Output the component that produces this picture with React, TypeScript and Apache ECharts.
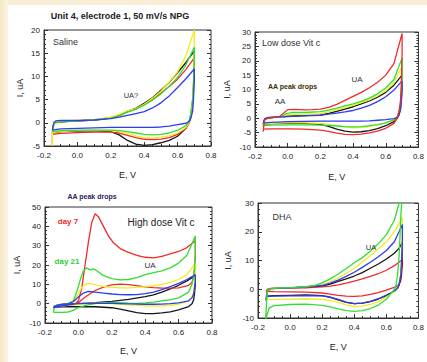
import React, { useEffect, useRef } from "react";
import * as echarts from "echarts";

type P = [number, number][];

// ---------- Panel 1: Saline ----------
const salineBlack: P = [[-0.15,-2.2],[-0.145,-0.8],[-0.14,-0.2],[-0.13,0.1],[-0.1,0.2],[0.0,0.4],[0.1,0.6],[0.2,1.1],[0.25,1.6],[0.3,2.4],[0.35,3.1],[0.4,4.2],[0.45,5.4],[0.5,7.0],[0.55,8.7],[0.6,10.8],[0.65,13.0],[0.7,15.5],[0.7,13],[0.695,8],[0.69,5],[0.68,2],[0.67,0.3],[0.65,-1.2],[0.6,-2.9],[0.55,-3.8],[0.5,-4.3],[0.45,-4.7],[0.4,-4.85],[0.35,-4.6],[0.3,-3.8],[0.25,-2.6],[0.2,-1.9],[0.1,-1.7],[0.0,-1.8],[-0.1,-1.9],[-0.15,-2.2]];
const salineRed: P = [[-0.15,-2.5],[-0.145,-1],[-0.14,-0.2],[-0.13,0],[-0.1,0.2],[0,0.4],[0.1,0.6],[0.2,1.0],[0.25,1.6],[0.3,2.5],[0.35,3.1],[0.4,4.0],[0.45,5.0],[0.5,6.4],[0.55,7.8],[0.6,9.4],[0.65,11.5],[0.7,14],[0.7,12],[0.695,7],[0.69,4],[0.68,1.5],[0.67,0],[0.65,-1.2],[0.6,-2.5],[0.55,-3.2],[0.5,-3.5],[0.45,-3.6],[0.4,-3.55],[0.35,-3.2],[0.3,-2.7],[0.25,-2.2],[0.2,-2.0],[0.1,-2.0],[0,-2.1],[-0.1,-2.3],[-0.15,-2.5],[-0.15,-5]];
const salineYellow: P = [[-0.15,-5],[-0.148,-2],[-0.14,-0.3],[-0.13,0.1],[-0.1,0.3],[0,0.5],[0.1,0.7],[0.2,1.2],[0.25,1.8],[0.3,2.6],[0.35,3.0],[0.4,4.0],[0.45,5.3],[0.5,6.8],[0.55,8.8],[0.6,11.0],[0.65,14.5],[0.7,20],[0.7,16],[0.695,9],[0.69,5],[0.68,2],[0.67,0.2],[0.65,-1.0],[0.6,-2.2],[0.55,-2.8],[0.5,-3.1],[0.45,-3.3],[0.4,-3.2],[0.35,-2.8],[0.3,-2.3],[0.25,-1.9],[0.2,-1.7],[0.1,-1.6],[0,-1.7],[-0.1,-1.9],[-0.15,-2.1]];
const salineGreen: P = [[-0.15,-1.9],[-0.145,-0.7],[-0.14,-0.1],[-0.13,0.1],[-0.1,0.2],[0,0.4],[0.1,0.6],[0.2,1.0],[0.25,1.5],[0.3,2.3],[0.35,2.9],[0.4,3.8],[0.45,4.9],[0.5,6.2],[0.55,7.9],[0.6,9.8],[0.65,12.5],[0.7,16.3],[0.7,14],[0.695,8],[0.69,4.5],[0.68,2],[0.67,0.5],[0.65,-0.6],[0.6,-1.6],[0.55,-2.2],[0.5,-2.5],[0.45,-2.6],[0.4,-2.5],[0.35,-2.2],[0.3,-1.9],[0.25,-1.7],[0.2,-1.6],[0.1,-1.6],[0,-1.6],[-0.1,-1.7],[-0.15,-1.9]];
const salineBlue: P = [[-0.15,-1.6],[-0.145,-0.6],[-0.14,0.1],[-0.13,0.4],[-0.1,0.5],[0,0.5],[0.1,0.6],[0.2,0.9],[0.25,1.2],[0.3,1.6],[0.35,2.0],[0.4,2.4],[0.45,3.2],[0.5,4.3],[0.55,5.8],[0.6,7.6],[0.65,9.5],[0.7,11.6],[0.7,9],[0.695,5],[0.69,2.5],[0.68,1],[0.67,0.3],[0.65,-0.1],[0.6,-0.4],[0.55,-0.7],[0.5,-0.9],[0.45,-1.0],[0.4,-1.0],[0.3,-1.0],[0.2,-1.0],[0.1,-1.1],[0,-1.2],[-0.1,-1.3],[-0.15,-1.6]];

// ---------- Panel 2: Low dose Vit c ----------
const lowRed: P = [[-0.15,-4.7],[-0.145,-2],[-0.14,-0.5],[-0.12,0],[-0.08,0.3],[-0.05,0.6],[-0.02,2.0],[0,3.0],[0.05,3.1],[0.1,2.9],[0.15,3.0],[0.2,3.2],[0.25,3.8],[0.3,4.8],[0.35,6.2],[0.4,7.6],[0.45,9.0],[0.5,10.6],[0.55,12.5],[0.6,15],[0.65,19],[0.7,29.5],[0.7,22],[0.695,12],[0.69,6],[0.68,2],[0.67,0],[0.65,-1.8],[0.6,-3.5],[0.55,-4.5],[0.5,-5.1],[0.45,-5.5],[0.4,-5.7],[0.35,-5.6],[0.3,-5.2],[0.25,-4.6],[0.2,-4.1],[0.1,-3.8],[0,-3.7],[-0.1,-3.7],[-0.15,-3.8]];
const lowGreen: P = [[-0.15,-3],[-0.145,-1.5],[-0.14,-0.5],[-0.12,0],[-0.08,0.3],[-0.04,0.6],[-0.01,1.5],[0.02,2.0],[0.1,2.0],[0.2,2.3],[0.25,2.8],[0.3,3.5],[0.35,4.3],[0.4,5.0],[0.45,5.9],[0.5,7.0],[0.55,8.5],[0.6,10.5],[0.65,13.5],[0.7,21],[0.7,15],[0.695,8],[0.69,4.5],[0.68,2],[0.67,0.5],[0.65,-0.6],[0.6,-1.6],[0.55,-2.2],[0.5,-2.6],[0.45,-2.9],[0.4,-3.0],[0.35,-2.9],[0.3,-2.7],[0.25,-2.5],[0.2,-2.4],[0.1,-2.3],[0,-2.3],[-0.1,-2.4],[-0.15,-2.6]];
const lowYellow: P = [[-0.15,-2.2],[-0.145,-1],[-0.14,-0.3],[-0.12,0.1],[-0.08,0.4],[-0.03,0.7],[0,1.3],[0.1,1.4],[0.2,1.6],[0.25,2.2],[0.3,3.0],[0.35,3.7],[0.4,4.5],[0.45,5.4],[0.5,6.5],[0.55,7.9],[0.6,9.5],[0.65,12.5],[0.7,18],[0.7,13],[0.695,7],[0.69,4],[0.68,1.8],[0.67,0.4],[0.65,-0.6],[0.6,-1.6],[0.55,-2.3],[0.5,-2.8],[0.45,-3.2],[0.4,-3.3],[0.35,-3.0],[0.3,-2.6],[0.25,-2.1],[0.2,-1.8],[0.1,-1.6],[0,-1.6],[-0.1,-1.8],[-0.15,-2.0]];
const lowBlack: P = [[-0.15,-2.2],[-0.145,-1],[-0.14,-0.3],[-0.12,0.1],[-0.08,0.3],[0,0.7],[0.1,0.9],[0.2,1.2],[0.25,1.7],[0.3,2.4],[0.35,3.2],[0.4,4.0],[0.45,5.0],[0.5,6.0],[0.55,7.3],[0.6,9.0],[0.65,11.5],[0.7,15],[0.7,11],[0.695,6],[0.69,3],[0.68,1],[0.67,0],[0.65,-1.2],[0.6,-2.6],[0.55,-3.6],[0.5,-4.3],[0.45,-4.7],[0.4,-4.8],[0.35,-4.5],[0.3,-3.8],[0.25,-2.8],[0.2,-2.1],[0.1,-1.8],[0,-1.8],[-0.1,-1.9],[-0.15,-2.1]];
const lowBlue: P = [[-0.15,-1.8],[-0.145,-0.8],[-0.14,-0.1],[-0.12,0.3],[-0.08,0.5],[0,0.6],[0.1,0.8],[0.2,1.0],[0.25,1.4],[0.3,1.8],[0.35,2.2],[0.4,2.7],[0.45,3.5],[0.5,4.5],[0.55,5.8],[0.6,7.5],[0.65,9.8],[0.7,13],[0.7,10],[0.695,5.5],[0.69,3],[0.68,1.2],[0.67,0.3],[0.65,-0.1],[0.6,-0.5],[0.55,-0.7],[0.5,-0.9],[0.45,-1.0],[0.4,-1.0],[0.3,-1.0],[0.2,-1.0],[0.1,-1.1],[0,-1.2],[-0.1,-1.4],[-0.15,-1.6]];

// ---------- Panel 3: High dose Vit c ----------
const highRed: P = [[-0.15,-1.5],[-0.14,-1.2],[-0.1,-1.0],[-0.05,-0.8],[-0.02,-0.3],[0,1.5],[0.02,8],[0.04,20],[0.06,32],[0.08,42],[0.1,46.5],[0.12,45],[0.15,40],[0.18,35],[0.21,31.5],[0.25,28.5],[0.3,26.5],[0.35,25],[0.4,24],[0.45,23.7],[0.5,24.5],[0.55,25.8],[0.6,27],[0.65,29],[0.7,32.5],[0.7,25],[0.695,18],[0.69,14],[0.68,11],[0.66,9.5],[0.6,8.2],[0.55,8],[0.5,8],[0.45,8.3],[0.4,8.7],[0.35,9.3],[0.3,9.8],[0.25,10.1],[0.2,9.7],[0.15,8.6],[0.1,6.8],[0.05,4],[0.02,2],[0,0.5],[-0.03,-0.5],[-0.1,-1.1],[-0.15,-1.5]];
const highGreen: P = [[-0.15,-4.5],[-0.145,-2.5],[-0.13,-1.2],[-0.1,-0.5],[-0.06,0],[-0.03,1.5],[-0.01,6],[0.01,12],[0.03,17],[0.05,18.5],[0.07,17.5],[0.09,18],[0.11,17],[0.15,14.5],[0.2,13],[0.25,12.3],[0.3,12.5],[0.35,13.5],[0.4,15],[0.45,16],[0.5,17],[0.55,18.5],[0.6,21],[0.65,25],[0.7,35],[0.7,26],[0.695,18],[0.69,14],[0.68,10],[0.66,6],[0.6,3],[0.55,2],[0.5,1.5],[0.45,0.8],[0.4,0.4],[0.35,0.2],[0.3,0.3],[0.25,0.5],[0.2,0.6],[0.15,0.4],[0.1,0],[0.05,-0.8],[0,-2],[-0.03,-3.5],[-0.06,-4.3],[-0.1,-4.5],[-0.15,-4.5]];
const highYellow: P = [[-0.15,-1.5],[-0.14,-1],[-0.1,-0.5],[-0.06,0],[-0.03,1.5],[0,5],[0.02,8.5],[0.05,10.5],[0.08,10.2],[0.12,9.3],[0.18,8.6],[0.25,8.2],[0.3,8.2],[0.35,8.4],[0.4,8.8],[0.45,9.3],[0.5,10],[0.55,11],[0.6,12.5],[0.65,15],[0.7,21],[0.7,15],[0.695,10],[0.69,6],[0.68,3.5],[0.66,1.5],[0.6,-0.3],[0.55,-0.9],[0.5,-1.1],[0.45,-1.2],[0.4,-1.1],[0.35,-0.9],[0.3,-0.6],[0.25,-0.3],[0.2,0],[0.15,0.2],[0.1,0.3],[0.05,0.2],[0,-0.3],[-0.05,-0.8],[-0.1,-1.2],[-0.15,-1.5]];
const highBlack: P = [[-0.15,-1.8],[-0.14,-1.2],[-0.12,-0.5],[-0.08,-0.2],[0,0],[0.1,0.5],[0.2,1.2],[0.3,2.2],[0.4,3.6],[0.45,4.6],[0.5,6],[0.55,7.6],[0.6,9.5],[0.65,11.8],[0.7,14.5],[0.7,10],[0.695,5],[0.69,2],[0.68,0],[0.66,-1.5],[0.6,-3.2],[0.55,-4.2],[0.5,-4.8],[0.45,-5.1],[0.4,-5.1],[0.35,-4.6],[0.3,-3.7],[0.25,-2.8],[0.2,-2.1],[0.1,-1.6],[0,-1.5],[-0.1,-1.6],[-0.15,-1.8]];
const highBlue: P = [[-0.15,-2],[-0.14,-1.2],[-0.1,-0.4],[-0.06,0],[-0.03,1],[0,3.5],[0.03,5.5],[0.06,6.3],[0.1,6],[0.15,5.5],[0.2,5],[0.25,4.7],[0.3,4.6],[0.35,4.7],[0.4,5.2],[0.45,6],[0.5,7.3],[0.55,8.8],[0.6,10.5],[0.65,12.5],[0.7,15],[0.7,12],[0.695,8],[0.69,5],[0.68,3],[0.66,1.5],[0.6,0.4],[0.55,0],[0.5,-0.2],[0.45,-0.3],[0.4,-0.3],[0.3,-0.1],[0.2,0.1],[0.1,0.2],[0,0],[-0.05,-0.5],[-0.1,-1.2],[-0.15,-2]];

// ---------- Panel 4: DHA ----------
const dhaGreen: P = [[-0.155,-12],[-0.15,-8],[-0.145,-3],[-0.14,-0.5],[-0.12,0.2],[-0.05,0.5],[0,0.6],[0.1,0.9],[0.15,1.3],[0.2,2.2],[0.25,3.6],[0.3,5.3],[0.35,7.2],[0.4,9.2],[0.45,11],[0.5,13.2],[0.55,15.8],[0.6,19],[0.65,24],[0.68,30],[0.69,35],[0.7,35],[0.69,25],[0.68,12],[0.67,5],[0.66,1.5],[0.65,0],[0.6,-3.5],[0.55,-5.5],[0.5,-6.7],[0.45,-7.4],[0.4,-7.7],[0.35,-7.4],[0.3,-6.8],[0.25,-6.1],[0.2,-5.6],[0.1,-5.2],[0,-5.3],[-0.1,-5.7],[-0.13,-6.5],[-0.15,-10],[-0.155,-12]];
const dhaYellow: P = [[-0.15,-3.2],[-0.145,-1.5],[-0.14,-0.3],[-0.12,0.2],[0,0.5],[0.1,0.8],[0.2,1.6],[0.25,2.6],[0.3,3.9],[0.35,5.5],[0.4,7.3],[0.45,9.5],[0.5,11.7],[0.55,14],[0.6,16.5],[0.65,20],[0.7,25],[0.7,20],[0.695,12],[0.69,6],[0.68,2.5],[0.67,0.5],[0.65,-0.8],[0.6,-2.7],[0.55,-4.3],[0.5,-5.3],[0.45,-5.9],[0.4,-6.0],[0.35,-5.4],[0.3,-4.6],[0.25,-3.9],[0.2,-3.5],[0.1,-3.3],[0,-3.4],[-0.1,-3.5],[-0.15,-3.6]];
const dhaBlack: P = [[-0.15,-3.5],[-0.145,-1.5],[-0.14,-0.3],[-0.12,0.2],[0,0.5],[0.1,0.8],[0.2,1.2],[0.25,1.8],[0.3,2.7],[0.35,3.6],[0.4,4.6],[0.45,5.8],[0.5,7.3],[0.55,8.8],[0.6,10.5],[0.65,12.5],[0.68,14.3],[0.7,16.3],[0.7,13],[0.695,8],[0.69,4],[0.68,1.5],[0.67,0.3],[0.65,-0.7],[0.6,-2.2],[0.55,-3.4],[0.5,-4.3],[0.45,-4.8],[0.4,-5.0],[0.35,-4.6],[0.3,-3.7],[0.25,-2.8],[0.2,-2.2],[0.1,-2.0],[0,-2.1],[-0.1,-2.2],[-0.15,-2.4]];
const dhaBlue: P = [[-0.15,-4],[-0.145,-2],[-0.14,-0.5],[-0.12,0.2],[0,0.5],[0.1,0.8],[0.2,1.3],[0.25,2.1],[0.3,3.2],[0.35,4.5],[0.4,5.9],[0.45,7.6],[0.5,9.4],[0.55,11.3],[0.6,13.5],[0.65,16.5],[0.7,22.5],[0.7,17],[0.695,10],[0.69,5],[0.68,2],[0.67,0.5],[0.65,-0.6],[0.6,-2.0],[0.55,-3.3],[0.5,-4.2],[0.45,-4.8],[0.4,-5.0],[0.35,-4.5],[0.3,-3.5],[0.25,-2.7],[0.2,-2.3],[0.1,-2.2],[0,-2.3],[-0.1,-2.4],[-0.15,-2.6]];
const dhaRed: P = [[-0.15,-0.5],[-0.14,0],[-0.12,0.3],[0,0.4],[0.1,0.5],[0.2,0.8],[0.25,1.1],[0.3,1.5],[0.35,2.1],[0.4,2.8],[0.45,3.6],[0.5,4.5],[0.55,5.4],[0.6,6.6],[0.65,8.2],[0.7,10.3],[0.7,8],[0.695,5],[0.69,3],[0.68,1.8],[0.66,0.8],[0.63,0.3],[0.6,-0.3],[0.55,-1.2],[0.5,-1.8],[0.45,-2.3],[0.4,-2.5],[0.35,-2.4],[0.3,-2.1],[0.25,-1.7],[0.2,-1.3],[0.1,-1.0],[0,-0.9],[-0.1,-0.8],[-0.15,-0.7]];

// axis ranges
const xRange = { min: -0.2, max: 0.8, interval: 0.2 };
const yRanges = [
  { min: -5, max: 20, interval: 5 },
  { min: -10, max: 30, interval: 5 },
  { min: -10, max: 50, interval: 10 },
  { min: -10, max: 30, interval: 10 },
];

const C = { black: "#161616", red: "#f02a2a", yellow: "#f0ee1c", green: "#33dd33", blue: "#2f3cf0" };

const panels: { color: string; data: P }[][] = [
  [ { color: C.black, data: salineBlack }, { color: C.red, data: salineRed }, { color: C.yellow, data: salineYellow }, { color: C.green, data: salineGreen }, { color: C.blue, data: salineBlue } ],
  [ { color: C.black, data: lowBlack }, { color: C.yellow, data: lowYellow }, { color: C.green, data: lowGreen }, { color: C.blue, data: lowBlue }, { color: C.red, data: lowRed } ],
  [ { color: C.black, data: highBlack }, { color: C.red, data: highRed }, { color: C.yellow, data: highYellow }, { color: C.green, data: highGreen }, { color: C.blue, data: highBlue } ],
  [ { color: C.red, data: dhaRed }, { color: C.black, data: dhaBlack }, { color: C.yellow, data: dhaYellow }, { color: C.blue, data: dhaBlue }, { color: C.green, data: dhaGreen } ],
];

const grids = [
  { left: 44, top: 30, width: 167, height: 116 },
  { left: 255, top: 32, width: 164, height: 115 },
  { left: 45, top: 207, width: 167, height: 116 },
  { left: 258, top: 203, width: 165, height: 115 },
];
const xNameGaps = [24, 25, 23, 24];
const yNameGaps = [20, 24, 24, 26];

const FONT = "'Liberation Sans', Arial, sans-serif";

export default function App() {
  const ref = useRef<HTMLDivElement>(null);
  useEffect(() => {
    if (!ref.current) return;
    const chart = echarts.init(ref.current, undefined, { renderer: "svg" });
    const xAxis: any[] = [];
    const yAxis: any[] = [];
    const series: any[] = [];
    grids.forEach((g, i) => {
      xAxis.push({
        type: "value", gridIndex: i, ...xRange, position: "bottom",
        name: "E, V", nameLocation: "middle", nameGap: xNameGaps[i],
        nameTextStyle: { fontSize: 9, color: "#222", fontFamily: FONT },
        axisLine: { show: true, onZero: false, lineStyle: { color: "#333", width: 1 } },
        axisTick: { show: true, inside: true, length: 4, lineStyle: { color: "#333" } },
        minorTick: { show: true, splitNumber: 4, length: 2, lineStyle: { color: "#333" } },
        splitLine: { show: false },
        axisLabel: { fontSize: 8, color: "#222", margin: 5, fontFamily: FONT, formatter: (v: number) => v.toFixed(1) },
      });
      const yr = yRanges[i];
      yAxis.push({
        type: "value", gridIndex: i, ...yr, position: "left",
        name: "I, uA", nameLocation: "middle", nameGap: yNameGaps[i],
        nameTextStyle: { fontSize: 9, color: "#222", fontFamily: FONT },
        axisLine: { show: true, onZero: false, lineStyle: { color: "#333", width: 1 } },
        axisTick: { show: true, inside: true, length: 4, lineStyle: { color: "#333" } },
        minorTick: { show: true, splitNumber: 5, length: 2, lineStyle: { color: "#333" } },
        splitLine: { show: false },
        axisLabel: { fontSize: 8, color: "#222", margin: 4, fontFamily: FONT },
      });
      yAxis.push({
        type: "value", gridIndex: i, ...yr, position: "right",
        axisLine: { show: false, onZero: false },
        axisTick: { show: true, inside: true, length: 4, lineStyle: { color: "#333" } },
        minorTick: { show: true, splitNumber: 5, length: 2, lineStyle: { color: "#333" } },
        splitLine: { show: false },
        axisLabel: { show: false },
      });
      panels[i].forEach((s) => {
        series.push({
          type: "line", xAxisIndex: i, yAxisIndex: i * 2, data: s.data,
          showSymbol: false, symbol: "none", clip: true,
          lineStyle: { color: s.color, width: 1.3 }, itemStyle: { color: s.color },
        });
      });
    });

    const txt = (x: number, y: number, text: string, size: number, opts: any = {}) => ({
      type: "text", x, y, z: 50,
      style: {
        text, fontSize: size, fontFamily: FONT, fill: opts.fill || "#222",
        fontWeight: opts.bold ? "bold" : "normal",
        textAlign: opts.align || "center", textVerticalAlign: "middle",
      },
    });

    chart.setOption({
      animation: false,
      backgroundColor: "#ffffff",
      grid: grids.map((g) => ({ ...g, show: true, borderColor: "#333", borderWidth: 1, backgroundColor: "transparent" })),
      xAxis, yAxis, series,
      graphic: [
        { type: "rect", z: -5, shape: { x: 0, y: 0, width: 427, height: 5 }, style: { fill: "#f8eed6" } },
        { type: "rect", z: -5, shape: { x: 0, y: 0, width: 8, height: 362 },
          style: { fill: new echarts.graphic.LinearGradient(0, 0, 1, 0, [ { offset: 0, color: "#f6e8c8" }, { offset: 1, color: "#fbf4e4" } ]) } },
        txt(120, 16, "Unit 4, electrode 1, 50 mV/s NPG", 9, { bold: true }),
        txt(53, 42, "Saline", 9, { align: "left", fill: "#333" }),
        txt(131, 95, "UA?", 7.5, { fill: "#333" }),
        txt(262, 43, "Low dose Vit c", 9, { align: "left", fill: "#333" }),
        txt(268, 86, "AA peak drops", 7, { align: "left", bold: true, fill: "#3a3000" }),
        txt(280, 101, "AA", 8, { fill: "#333" }),
        txt(357, 79, "UA", 8, { fill: "#333" }),
        txt(92, 196, "AA peak drops", 7, { bold: true, fill: "#2e2260" }),
        txt(68, 221, "day 7", 8, { bold: true, fill: "#f02a2a" }),
        txt(67, 261, "day 21", 8, { bold: true, fill: "#33cc33" }),
        txt(161, 222, "High dose Vit c", 10, { fill: "#222" }),
        txt(150, 265, "UA", 8, { fill: "#333" }),
        txt(282, 217, "DHA", 9, { fill: "#333" }),
        txt(371, 247, "UA", 7.5, { fill: "#333" }),
      ],
    });
    return () => chart.dispose();
  }, []);
  return <div ref={ref} style={{ position: "fixed", left: 0, top: 0, width: 427, height: 362 }} />;
}
